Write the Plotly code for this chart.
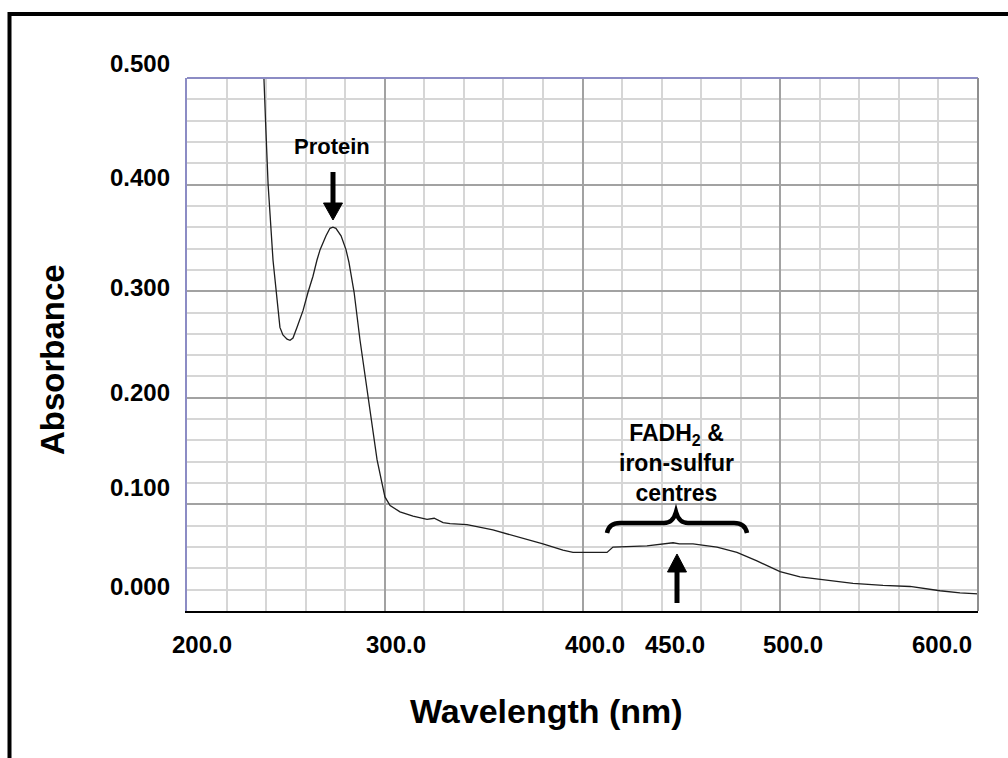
import plotly.graph_objects as go

# ---------------- data ----------------
wavelength_nm = [238.4, 238.9, 239.9, 241.0, 243.5, 245.0, 247.0, 248.5, 250.6, 252.1,
                 253.6, 255.6, 258.7, 261.2, 263.7, 265.7, 267.3, 270.3, 272.3, 273.8,
                 275.3, 277.9, 280.4, 281.9, 284.5, 287.5, 289.0, 291.5, 294.1, 296.1,
                 298.6, 300.1, 302.7, 307.7, 314.3, 321.4, 325.0, 329.5, 333.0, 341.6,
                 354.7, 368.4, 380.0, 390.1, 395.2, 412.4, 415.4, 432.6, 438.0, 445.8,
                 449.0, 455.9, 468.0, 478.1, 488.2, 499.9, 510.0, 520.1, 536.8, 552.0,
                 565.6, 580.8, 590.9, 600.0]
absorbance = [0.5075, 0.500, 0.451, 0.4006, 0.329, 0.299, 0.266, 0.259, 0.255, 0.254,
              0.256, 0.266, 0.282, 0.299, 0.314, 0.329, 0.339, 0.352, 0.359, 0.360,
              0.359, 0.352, 0.339, 0.327, 0.299, 0.254, 0.235, 0.202, 0.170, 0.142,
              0.120, 0.107, 0.099, 0.093, 0.089, 0.086, 0.087, 0.083, 0.082, 0.081,
              0.076, 0.069, 0.063, 0.057, 0.055, 0.055, 0.060, 0.061, 0.062, 0.064,
              0.063, 0.063, 0.060, 0.055, 0.047, 0.037, 0.032, 0.030, 0.026, 0.024,
              0.023, 0.019, 0.017, 0.016]

x_tick_labels = ["200.0", "300.0", "400.0", "450.0", "500.0", "600.0"]
y_tick_labels = ["0.500", "0.400", "0.300", "0.200", "0.100", "0.000"]

# ---------------- layout geometry (pixels) ----------------
W, H = 1008, 758
L, R, T, B = 187, 978, 78, 611          # plot-area edges in page pixels
x_label_px = [202, 396, 595, 675, 793, 942]   # label centres
x_label_py = 644
y_label_px = 140
y_label_py = [63, 177, 287, 392, 488, 586]


def pxx(px):
    return (px - L) / (R - L)


def pxy(py):
    return (B - py) / (B - T)


fig = go.Figure()
fig.add_trace(go.Scatter(
    x=wavelength_nm, y=absorbance, mode="lines",
    line=dict(color="#1e1e1e", width=1.3), hoverinfo="skip", showlegend=False))

annotations = []
tick_font = dict(family="Liberation Sans, Arial", size=24, color="black")
for lab, px in zip(x_tick_labels, x_label_px):
    annotations.append(dict(text="<b>%s</b>" % lab, xref="paper", yref="paper",
                            x=pxx(px), y=pxy(x_label_py), showarrow=False,
                            xanchor="center", yanchor="middle", font=tick_font))
for lab, py in zip(y_tick_labels, y_label_py):
    annotations.append(dict(text="<b>%s</b>" % lab, xref="paper", yref="paper",
                            x=pxx(y_label_px), y=pxy(py), showarrow=False,
                            xanchor="center", yanchor="middle", font=tick_font))

title_font = dict(family="Liberation Sans, Arial", size=34, color="black")
annotations.append(dict(text="<b>Wavelength (nm)</b>", xref="paper", yref="paper",
                        x=pxx(546), y=pxy(711), showarrow=False,
                        xanchor="center", yanchor="middle", font=title_font))
annotations.append(dict(text="<b>Absorbance</b>", xref="paper", yref="paper",
                        x=pxx(52), y=pxy(360), showarrow=False, textangle=-90,
                        xanchor="center", yanchor="middle",
                        font=dict(family="Liberation Sans, Arial", size=33, color="black")))

small_font = dict(family="Liberation Sans, Arial", size=23, color="black")
annotations.append(dict(text="<b>Protein</b>", xref="paper", yref="paper",
                        x=pxx(332), y=pxy(146), showarrow=False,
                        xanchor="center", yanchor="middle",
                        font=dict(family="Liberation Sans, Arial", size=22, color="black")))
annotations.append(dict(text="<b>FADH<sub>2</sub> &amp;<br>iron-sulfur<br>centres</b>",
                        xref="paper", yref="paper",
                        x=pxx(676), y=pxy(463), showarrow=False,
                        xanchor="center", yanchor="middle", font=small_font))

shapes = []
# outer frame
shapes.append(dict(type="rect", xref="paper", yref="paper",
                   x0=pxx(9.5), x1=pxx(1012), y0=pxy(766), y1=pxy(14),
                   line=dict(color="black", width=4), fillcolor="rgba(0,0,0,0)", layer="above"))
# plot-area top and right edges
shapes.append(dict(type="line", xref="paper", yref="paper", x0=0, x1=1, y0=1, y1=1,
                   line=dict(color="#8c8cc4", width=2)))
shapes.append(dict(type="line", xref="paper", yref="paper", x0=1, x1=1, y0=0, y1=1,
                   line=dict(color="#8f8f8f", width=2)))


def arrow(xc, tail_y, base_y, tip_y):
    shaft = dict(type="line", xref="paper", yref="paper",
                 x0=pxx(xc), x1=pxx(xc), y0=pxy(tail_y), y1=pxy(base_y),
                 line=dict(color="black", width=5))
    head = dict(type="path", xref="paper", yref="paper",
                path="M %f %f L %f %f L %f %f Z" % (pxx(xc - 9.5), pxy(base_y),
                                                     pxx(xc + 9.5), pxy(base_y),
                                                     pxx(xc), pxy(tip_y)),
                fillcolor="black", line=dict(color="black", width=1))
    return [shaft, head]


shapes += arrow(333, 172, 203, 220)
shapes += arrow(677, 603, 572, 554)

# curly brace
bp = [(607, 533), (609, 523), (620, 523), (664, 523), (673, 523), (676, 512),
      (679, 523), (688, 523), (734, 523), (745, 523), (747, 533)]
path = ("M %f %f Q %f %f %f %f L %f %f Q %f %f %f %f Q %f %f %f %f L %f %f Q %f %f %f %f" % (
    pxx(bp[0][0]), pxy(bp[0][1]),
    pxx(bp[1][0]), pxy(bp[1][1]), pxx(bp[2][0]), pxy(bp[2][1]),
    pxx(bp[3][0]), pxy(bp[3][1]),
    pxx(bp[4][0]), pxy(bp[4][1]), pxx(bp[5][0]), pxy(bp[5][1]),
    pxx(bp[6][0]), pxy(bp[6][1]), pxx(bp[7][0]), pxy(bp[7][1]),
    pxx(bp[8][0]), pxy(bp[8][1]),
    pxx(bp[9][0]), pxy(bp[9][1]), pxx(bp[10][0]), pxy(bp[10][1])))
shapes.append(dict(type="path", xref="paper", yref="paper", path=path,
                   line=dict(color="black", width=4.5)))

fig.update_layout(
    width=W, height=H,
    margin=dict(l=L, r=W - R, t=T, b=H - B, pad=0),
    paper_bgcolor="white", plot_bgcolor="white",
    showlegend=False,
    annotations=annotations, shapes=shapes,
    xaxis=dict(range=[200, 600], dtick=100, tick0=200, showticklabels=False, ticks="",
               showgrid=True, gridcolor="#a2a2a2", gridwidth=1.5,
               minor=dict(dtick=20, tick0=200, showgrid=True, gridcolor="#d6d6d6", gridwidth=1.5),
               showline=True, linecolor="black", linewidth=2, zeroline=False, fixedrange=True),
    yaxis=dict(range=[0, 0.5], dtick=0.1, tick0=0, showticklabels=False, ticks="",
               showgrid=True, gridcolor="#a2a2a2", gridwidth=1.5,
               minor=dict(dtick=0.02, tick0=0, showgrid=True, gridcolor="#d6d6d6", gridwidth=1.5),
               showline=True, linecolor="#8c8cc4", linewidth=2, zeroline=False, fixedrange=True),
)

fig.write_html("out.html")
